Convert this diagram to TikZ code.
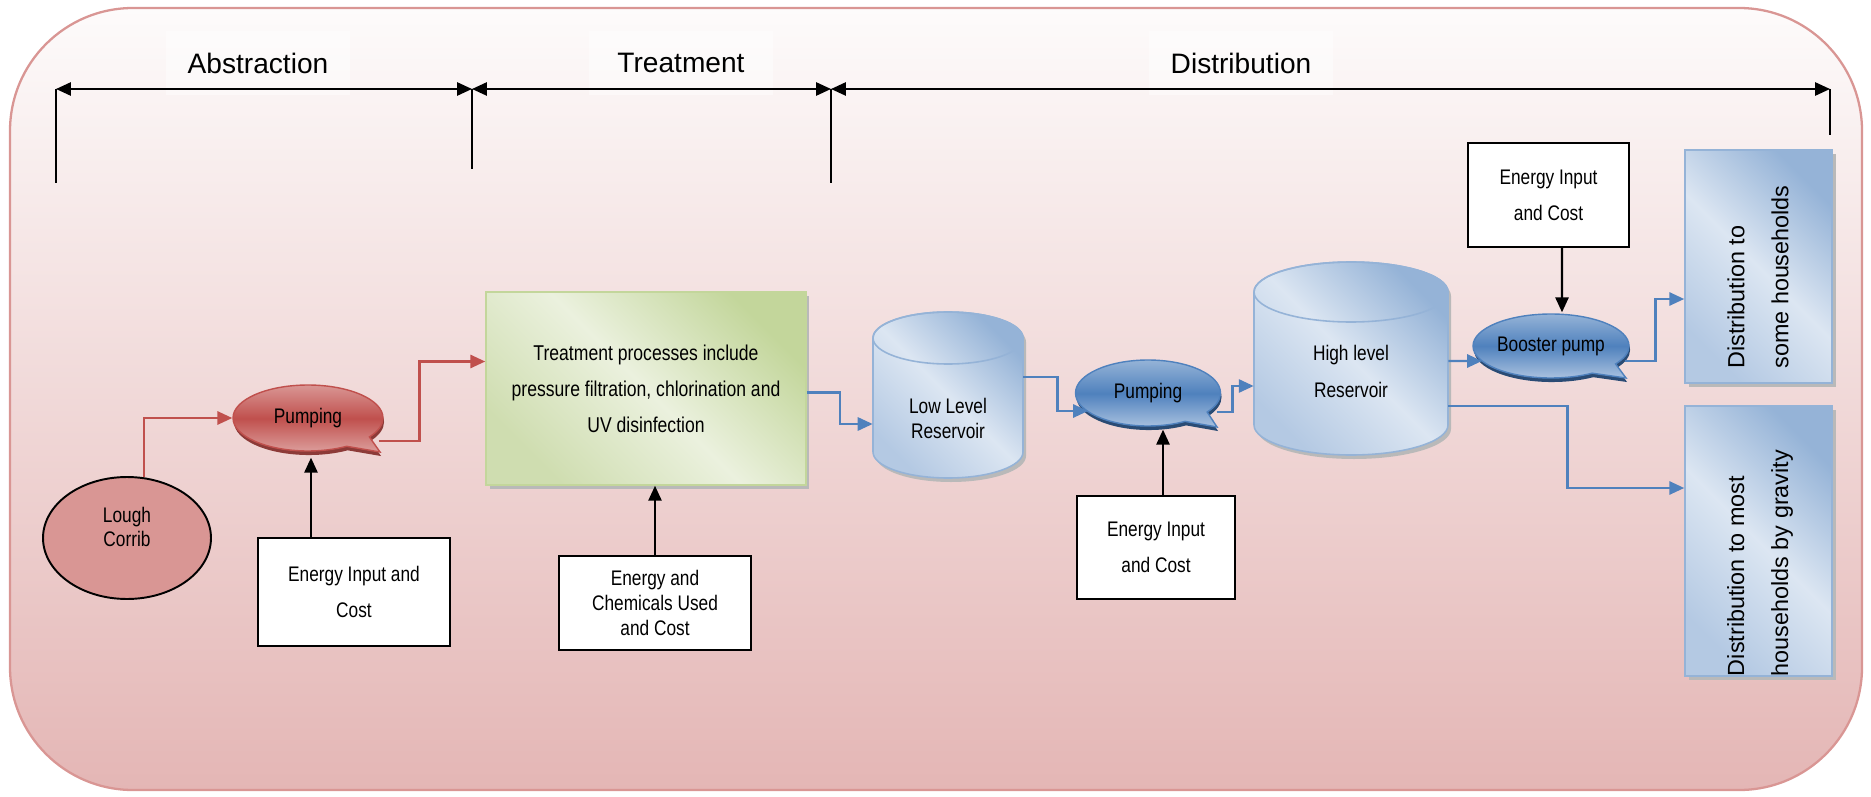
\documentclass[tikz,border=0pt]{standalone}
\usepackage{fontspec}
\setmainfont{Liberation Sans}
\newfontfamily\nar{Liberation Sans}[FakeStretch=0.82]
\usetikzlibrary{arrows.meta,calc,shapes.geometric,shapes.callouts,shadows}
\definecolor{redL}{HTML}{D99694}
\definecolor{redB}{HTML}{DC9E9C}
\definecolor{redM}{HTML}{C0504D}
\definecolor{redS}{HTML}{8C3A38}
\definecolor{blueM}{HTML}{4F81BD}
\definecolor{blueL}{HTML}{95B3D7}
\definecolor{blueB}{HTML}{A9C1DF}
\definecolor{blueS}{HTML}{2A4B74}
\definecolor{bL}{HTML}{DCE6F2}
\definecolor{bD}{HTML}{95B3D7}
\definecolor{bM}{HTML}{B4C9E3}
\definecolor{gL}{HTML}{EBF1DE}
\definecolor{gD}{HTML}{C3D69B}
\definecolor{gM}{HTML}{CFDDB0}
\definecolor{bgTop}{HTML}{FDFBFB}
\definecolor{bgBot}{HTML}{E4B6B5}
\definecolor{bgBorder}{HTML}{D99694}
\pgfdeclarehorizontalshading{greendiag}{100bp}{color(0bp)=(gM); color(25bp)=(gM); color(50bp)=(gL); color(75bp)=(gD); color(100bp)=(gD)}
\pgfdeclarehorizontalshading{bluediag}{100bp}{color(0bp)=(bM); color(25bp)=(bM); color(50bp)=(bL); color(75bp)=(bD); color(100bp)=(bD)}
\def\px{*0.5690551pt}
\newcommand{\mycyl}[5]{%
  \fill[gray!55, shift={(3,4)}] (#1-#4,#2) -- (#1-#4,#3) arc[start angle=180,end angle=0,x radius=#4,y radius=#5] -- (#1+#4,#2) arc[start angle=0,end angle=-180,x radius=#4,y radius=#5] -- cycle;
  \shadedraw[shading=bluediag, shading angle=45, draw=bD, line width=0.9pt] (#1-#4,#2) -- (#1-#4,#3) arc[start angle=180,end angle=0,x radius=#4,y radius=#5] -- (#1+#4,#2) arc[start angle=0,end angle=-180,x radius=#4,y radius=#5] -- cycle;
  \draw[draw=bD, line width=0.9pt] (#1,#2) ellipse[x radius=#4, y radius=#5];
}
\begin{document}
\begin{tikzpicture}[x=0.02cm, y=-0.02cm,
  title/.style={font=\fontsize{16}{19}\selectfont, fill=white, fill opacity=0.45, text opacity=1, minimum width=184\px, minimum height=64\px, inner sep=0},
  tick/.style={line width=0.9pt, black},
  span/.style={line width=1.2pt, black, {Triangle[length=8.5pt,width=7.5pt]}-{Triangle[length=8.5pt,width=7.5pt]}},
  ebox/.style={draw=black, line width=1.1pt, fill=white, inner sep=0, align=center, font=\nar\fontsize{12}{20.5}\selectfont},
  pumpbase/.style={ellipse callout, callout pointer arc=24, inner sep=0, line width=0.8pt, text=black, font=\nar\fontsize{12}{14}\selectfont},
  pumpred/.style={pumpbase, draw=redM, top color=redL, bottom color=redB, middle color=redM, drop shadow={shadow xshift=0.6pt, shadow yshift=-2.3pt, fill=redS, opacity=1}},
  pumpblue/.style={pumpbase, draw=blueM, top color=blueL, bottom color=blueB, middle color=blueM, drop shadow={shadow xshift=0.6pt, shadow yshift=-2.3pt, fill=blueS, opacity=1}},
  treatbox/.style={shade, shading=greendiag, shading angle=45, draw=gD, line width=0.9pt, inner sep=0, align=center, font=\nar\fontsize{12.2}{20.5}\selectfont, drop shadow={shadow xshift=2pt, shadow yshift=-2.5pt, fill=gray!55, opacity=1}},
  distbox/.style={shade, shading=bluediag, shading angle=45, draw=bD, line width=0.9pt, inner sep=0, drop shadow={shadow xshift=2pt, shadow yshift=-2.5pt, fill=gray!55, opacity=1}},
  disttxt/.style={rotate=90, align=left, font=\fontsize{13.3}{25}\selectfont, inner sep=0},
  ntxt/.style={align=center, inner sep=0},
  redarrow/.style={draw=redM, line width=1.4pt, -{Triangle[length=8.5pt,width=7.5pt]}},
  bluearrow/.style={draw=blueM, line width=1.4pt, -{Triangle[length=8.5pt,width=7.5pt]}},
  blackarrow/.style={draw=black, line width=1.2pt, -{Triangle[length=8.5pt,width=7.5pt]}}
]
\useasboundingbox (0,0) rectangle (1871,797);
% background
\shadedraw[top color=bgTop, bottom color=bgBot, draw=bgBorder, line width=1.3pt, rounded corners=70pt] (10,8) rectangle (1862,790);

% stage titles
\node[title] (tabs) at (258,63) {Abstraction};
\node[title] (ttre) at (681,63) {Treatment};
\node[title] (tdis) at (1241,63) {Distribution};

% timeline
\coordinate (a0) at (56,89);
\coordinate (a1) at (472,89);
\coordinate (a2) at (831,89);
\coordinate (a3) at (1830,89);
\coordinate (a0b) at (56,183);
\coordinate (a1b) at (472,169);
\coordinate (a2b) at (831,183);
\coordinate (a3b) at (1830,135);
\draw[tick] (a0) -- (a0b);
\draw[tick] (a1) -- (a1b);
\draw[tick] (a2) -- (a2b);
\draw[tick] (a3) -- (a3b);
\draw[span] (a0) -- (a1);
\draw[span] (a1) -- (a2);
\draw[span] (a2) -- (a3);

% abstraction
\node[ellipse, draw=black, line width=1.1pt, fill=redL, minimum width=168\px, minimum height=122\px, inner sep=0] (lough) at (127,538) {};
\node[ntxt, font=\nar\fontsize{12}{13.7}\selectfont] (loughtxt) at (127,527) {Lough\\Corrib};
\node[pumpred, minimum width=150\px, minimum height=66\px, callout absolute pointer={(380,452)}] (pump1) at (308,418) {Pumping};
\node[ebox, minimum width=192\px, minimum height=108\px] (e1) at (354,592) {Energy Input and\\Cost};

% treatment
\node[treatbox, minimum width=320\px, minimum height=193\px] (treat) at (646,388.5) {Treatment processes include\\pressure filtration, chlorination and\\UV disinfection};
\node[ebox, minimum width=192\px, minimum height=94\px, font=\nar\fontsize{12}{14.2}\selectfont] (e2) at (655,603) {Energy and\\Chemicals Used\\and Cost};

% distribution
\mycyl{948}{338}{452}{75}{26}
\node[inner sep=0, minimum width=150\px, minimum height=166\px] (lowres) at (948,395) {};
\node[ntxt, font=\nar\fontsize{12}{14.2}\selectfont] (lowtxt) at (948,418) {Low Level\\Reservoir};

\node[pumpblue, minimum width=145\px, minimum height=66\px, callout absolute pointer={(1217,427)}] (pump2) at (1148,393) {Pumping};
\node[ebox, minimum width=158\px, minimum height=103\px] (e3) at (1156,547.5) {Energy Input\\and Cost};

\mycyl{1351}{292}{425}{97}{30}
\node[inner sep=0, minimum width=194\px, minimum height=193\px] (highres) at (1351,358.5) {};
\node[ntxt, font=\nar\fontsize{12}{21}\selectfont] (hightxt) at (1351,371.5) {High level\\Reservoir};

\node[ebox, minimum width=161\px, minimum height=104\px] (e4) at (1548.5,195) {Energy Input\\and Cost};
\node[pumpblue, minimum width=156\px, minimum height=64\px, callout absolute pointer={(1626,378)}] (boost) at (1551,346) {Booster pump};

\node[distbox, minimum width=147\px, minimum height=233\px] (dist1) at (1758.5,266.5) {};
\node[disttxt] (d1txt) at (1758,277) {Distribution to\\some households};
\node[distbox, minimum width=147\px, minimum height=270\px] (dist2) at (1758.5,541) {};
\node[disttxt] (d2txt) at (1760,563) {Distribution to most\\households by gravity};

% connectors
\draw[redarrow] ($(lough.north)+(17,1)$) |- (pump1.west);
\draw[redarrow] ($(pump1.pointer)+(-3,-12)$) -- ++(41,0) |- ($(treat.west)+(0,-27)$);
\draw[blackarrow] ($(e1.north)+(-43,0)$) -- ($(pump1.south)+(3,6)$);
\draw[blackarrow] (e2.north) -- (treat.south -| e2.north);
\draw[bluearrow] ($(treat.east)+(0,4)$) -- ++(33,0) |- ($(lowres.west)+(0,29)$);
\draw[bluearrow] ($(lowres.east)+(0,-18)$) -- ++(34,0) |- ($(pump2.center)+(-60,18)$);
\draw[bluearrow] ($(pump2.pointer)+(-2,-16)$) -- ++(16,0) |- ($(highres.west)+(0,27.5)$);
\draw[blackarrow] ($(e3.north)+(7,0)$) -- ($(pump2.south)+(15,3)$);
\draw[bluearrow] ($(highres.east)+(0,2.5)$) -- ($(boost.center)+(-69,15)$);
\draw[bluearrow] ($(highres.east)+(0,47.5)$) -- ++(119,0) |- ($(dist2.west)+(0,-53)$);
\draw[bluearrow] ($(boost.pointer)+(-3,-18)$) -- ++(31,0) |- ($(dist1.west)+(0,32.5)$);
\draw[blackarrow] ($(e4.south)+(13.5,0)$) -- ($(boost.north)+(11,-1)$);
\end{tikzpicture}
\end{document}
